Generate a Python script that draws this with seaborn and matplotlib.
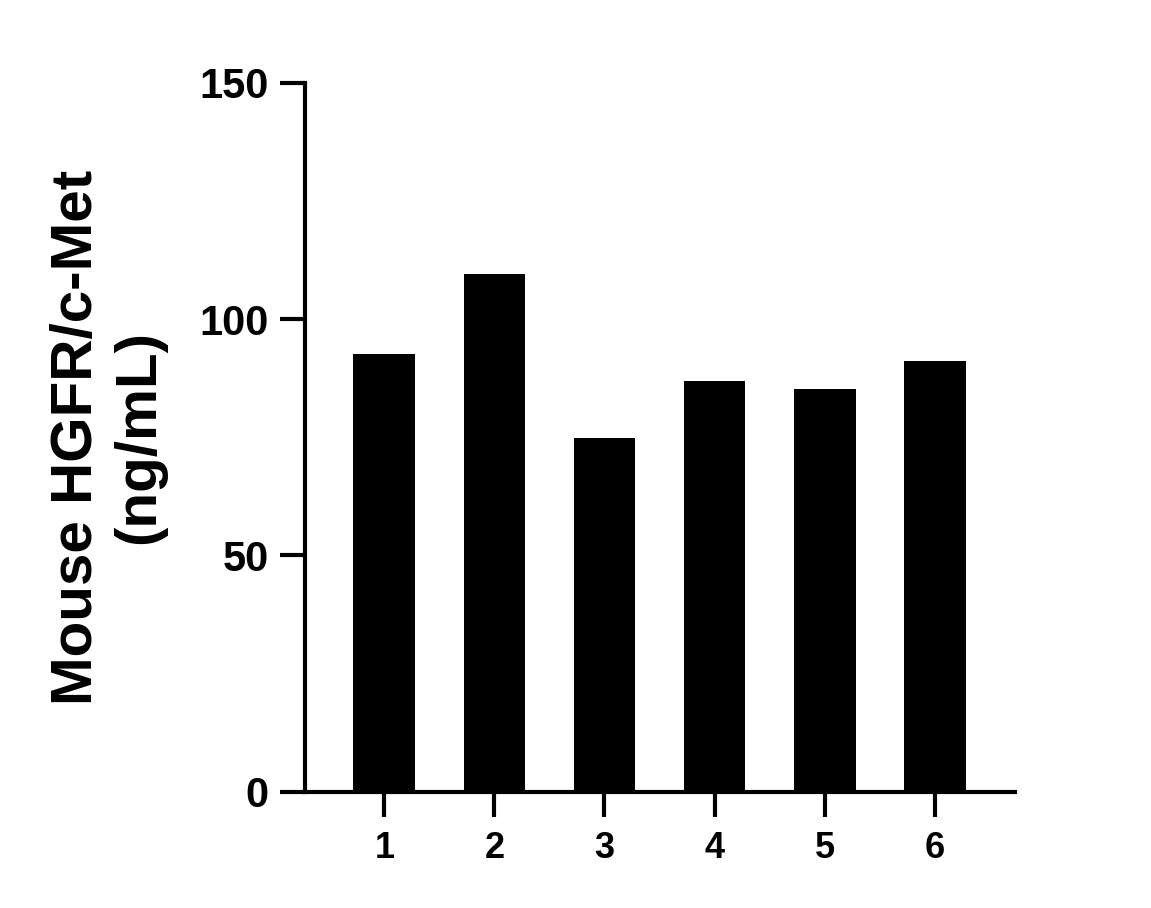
import matplotlib
matplotlib.use("Agg")
import matplotlib.pyplot as plt
import seaborn as sns
import pandas as pd

samples = ["1", "2", "3", "4", "5", "6"]
values = [92.7, 109.6, 74.9, 86.9, 85.3, 91.2]

df = pd.DataFrame({"sample": samples, "conc": values})

sns.set_style("ticks", {"axes.edgecolor": "black", "xtick.color": "black",
                        "ytick.color": "black", "text.color": "black",
                        "axes.labelcolor": "black"})
plt.rcParams["font.family"] = ["Liberation Sans", "DejaVu Sans"]
plt.rcParams["font.weight"] = "bold"

fig = plt.figure(figsize=(11.51, 9.08), dpi=100)
ax = fig.add_axes([0.265, 0.128, 0.617, 0.781])

sns.barplot(data=df, x="sample", y="conc", color="black", width=0.56,
            saturation=1, edgecolor="black", linewidth=0, ax=ax)

ax.set_ylim(0, 150)
ax.set_xlim(-0.72, 5.73)
ax.set_yticks([0, 50, 100, 150])
ax.set_xlabel("")
ax.set_ylabel("Mouse HGFR/c-Met\n(ng/mL)", fontsize=42, fontweight="bold",
              labelpad=24, linespacing=1.2, color="black")

sns.despine(ax=ax)
for side in ["left", "bottom"]:
    ax.spines[side].set_linewidth(3)
    ax.spines[side].set_color("black")
ax.tick_params(axis="y", length=18, width=3, pad=8, labelsize=30, colors="black")
ax.tick_params(axis="x", length=18, width=3, pad=10, labelsize=26, colors="black")
for lbl in ax.get_xticklabels() + ax.get_yticklabels():
    lbl.set_fontweight("bold")

fig.savefig("out.png", dpi=100)
